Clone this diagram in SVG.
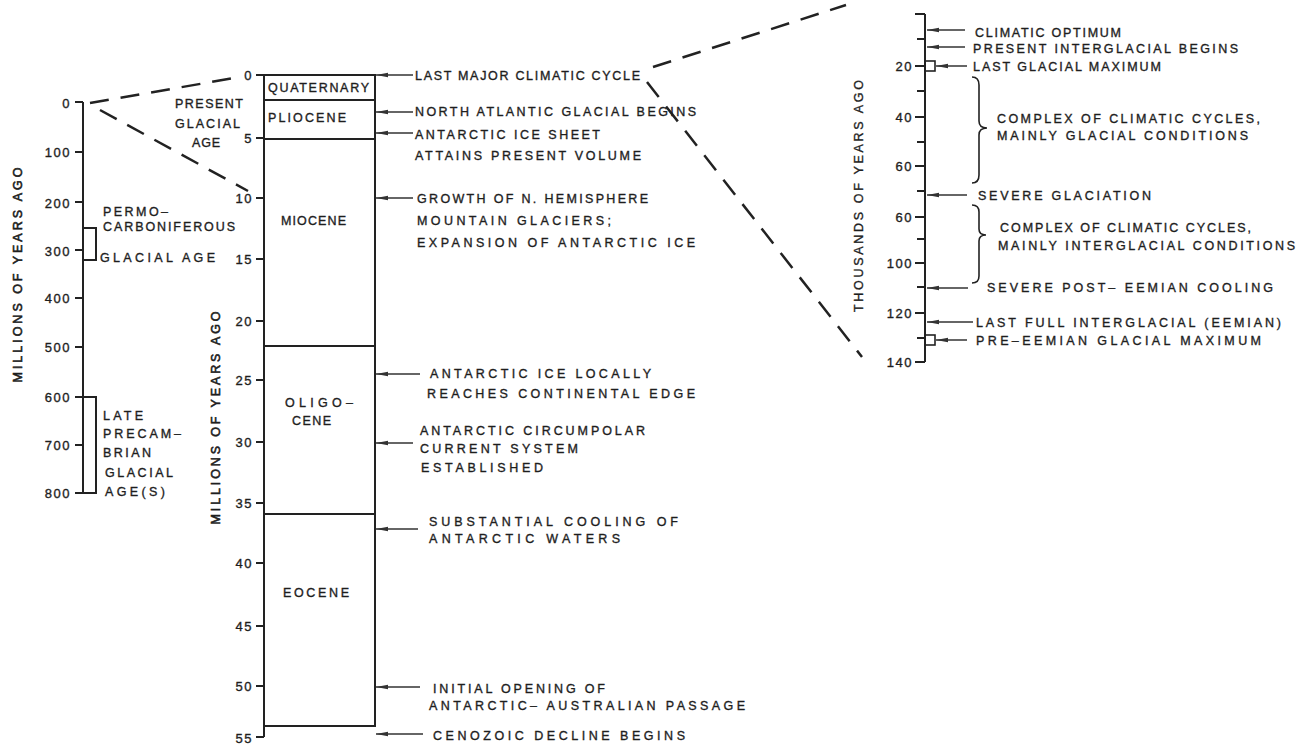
<svg xmlns="http://www.w3.org/2000/svg" width="1299" height="753" viewBox="0 0 1299 753">
<style>
text{font-family:"Liberation Sans",Arial,sans-serif;font-size:13px;fill:#1e1e1e;stroke:#1e1e1e;stroke-width:0.35px;}
.n{text-anchor:end;letter-spacing:1.5px;}
.ax{fill:none;stroke:#222;stroke-width:2;}
.tk{stroke:#222;stroke-width:2;}
.ds{fill:none;stroke:#222;stroke-width:2.5;stroke-dasharray:19 12;}
.ar{stroke:#333;stroke-width:1.5;marker-end:url(#ah);}
.br{fill:none;stroke:#222;stroke-width:1.6;}
.lab{font-size:12.5px;letter-spacing:2px;}
.rot{font-size:12.5px;stroke-width:0.6px;}
</style>
<defs>
<marker id="ah" viewBox="0 0 12 6" refX="12" refY="3" markerWidth="12" markerHeight="6" markerUnits="userSpaceOnUse" orient="auto">
<path d="M0,0.8 L12,3 L0,5.2 Z" fill="#333"/>
</marker>
</defs>
<rect width="1299" height="753" fill="#fff"/>

<g id="connectors">
<line class="ds" x1="90" y1="103" x2="240" y2="77"/>
<line class="ds" x1="100" y1="110" x2="248" y2="191"/>
<line class="ds" x1="653" y1="67" x2="846" y2="5"/>
<line class="ds" x1="647" y1="82" x2="862" y2="357"/>
</g>

<g id="left-axis">
<line class="ax" x1="83" y1="102" x2="83" y2="493"/>
<g class="tk">
<line x1="75" y1="102" x2="83" y2="102"/><line x1="75" y1="152" x2="83" y2="152"/>
<line x1="75" y1="202" x2="83" y2="202"/><line x1="75" y1="250" x2="83" y2="250"/>
<line x1="75" y1="298" x2="83" y2="298"/><line x1="75" y1="347" x2="83" y2="347"/>
<line x1="75" y1="397" x2="83" y2="397"/><line x1="75" y1="445" x2="83" y2="445"/>
<line x1="75" y1="493" x2="83" y2="493"/>
</g>
<text class="n" x="71" y="107.5">0</text>
<text class="n" x="71" y="156.5">100</text>
<text class="n" x="71" y="207.5">200</text>
<text class="n" x="71" y="255.5">300</text>
<text class="n" x="71" y="302.5">400</text>
<text class="n" x="71" y="351.5">500</text>
<text class="n" x="71" y="401.5">600</text>
<text class="n" x="71" y="449.5">700</text>
<text class="n" x="71" y="497.5">800</text>
<text class="rot" transform="translate(22,275) rotate(-90)" text-anchor="middle" textLength="215" lengthAdjust="spacing">MILLIONS OF YEARS AGO</text>
</g>

<g id="permo-carboniferous">
<polyline class="ax" points="83,228 96,228 96,260 83,260"/>
<text class="lab" x="103" y="215.5" textLength="67" lengthAdjust="spacing">PERMO–</text>
<text class="lab" x="103" y="230.5" textLength="134" lengthAdjust="spacing">CARBONIFEROUS</text>
<text class="lab" x="100" y="261.5" textLength="117" lengthAdjust="spacing">GLACIAL AGE</text>
</g>

<g id="late-precambrian">
<polyline class="ax" points="83,397 96,397 96,493 83,493"/>
<text class="lab" x="103" y="419.5" textLength="42" lengthAdjust="spacing">LATE</text>
<text class="lab" x="103" y="437.5" textLength="80" lengthAdjust="spacing">PRECAM–</text>
<text class="lab" x="103" y="456.5" textLength="50" lengthAdjust="spacing">BRIAN</text>
<text class="lab" x="105" y="476.5" textLength="70" lengthAdjust="spacing">GLACIAL</text>
<text class="lab" x="105" y="495.5" textLength="62" lengthAdjust="spacing">AGE(S)</text>
</g>

<g id="present-glacial-age">
<text class="lab" x="175" y="107.5" textLength="70" lengthAdjust="spacing">PRESENT</text>
<text class="lab" x="175" y="127.5" textLength="67" lengthAdjust="spacing">GLACIAL</text>
<text class="lab" x="192" y="146.5" textLength="30" lengthAdjust="spacing">AGE</text>
</g>

<g id="middle-axis">
<line class="ax" x1="264" y1="75" x2="264" y2="737"/>
<g class="tk">
<line x1="256" y1="75" x2="264" y2="75"/><line x1="256" y1="138" x2="264" y2="138"/>
<line x1="256" y1="198" x2="264" y2="198"/><line x1="256" y1="259" x2="264" y2="259"/>
<line x1="256" y1="321" x2="264" y2="321"/><line x1="256" y1="380" x2="264" y2="380"/>
<line x1="256" y1="442" x2="264" y2="442"/><line x1="256" y1="503" x2="264" y2="503"/>
<line x1="256" y1="563" x2="264" y2="563"/><line x1="256" y1="626" x2="264" y2="626"/>
<line x1="256" y1="686" x2="264" y2="686"/><line x1="256" y1="737" x2="264" y2="737"/>
</g>
<text class="n" x="253" y="79.5">0</text>
<text class="n" x="253" y="142.5">5</text>
<text class="n" x="253" y="202.5">10</text>
<text class="n" x="253" y="263.5">15</text>
<text class="n" x="253" y="325.5">20</text>
<text class="n" x="253" y="384.5">25</text>
<text class="n" x="253" y="446.5">30</text>
<text class="n" x="253" y="507.5">35</text>
<text class="n" x="253" y="567.5">40</text>
<text class="n" x="253" y="630.5">45</text>
<text class="n" x="253" y="690.5">50</text>
<text class="n" x="253" y="742.5">55</text>
<text class="rot" transform="translate(219.5,418) rotate(-90)" text-anchor="middle" textLength="213" lengthAdjust="spacing">MILLIONS OF YEARS AGO</text>
</g>

<g id="epochs">
<rect class="ax" x="264" y="75" width="111" height="651"/>
<line class="tk" x1="264" y1="100" x2="375" y2="100"/>
<line class="tk" x1="264" y1="139" x2="375" y2="139" stroke-width="2.6"/>
<line class="tk" x1="264" y1="346" x2="375" y2="346"/>
<line class="tk" x1="264" y1="514" x2="375" y2="514"/>
<text class="lab" x="268" y="91.5" textLength="103" lengthAdjust="spacing">QUATERNARY</text>
<text class="lab" x="268" y="121.5" textLength="80" lengthAdjust="spacing">PLIOCENE</text>
<text class="lab" x="281" y="224.5" textLength="67" lengthAdjust="spacing">MIOCENE</text>
<text class="lab" x="285" y="406.5" textLength="70" lengthAdjust="spacing">OLIGO–</text>
<text class="lab" x="292" y="424.5" textLength="41" lengthAdjust="spacing">CENE</text>
<text class="lab" x="283" y="596.5" textLength="68" lengthAdjust="spacing">EOCENE</text>
</g>

<g id="events-cenozoic">
<line class="ar" x1="413" y1="75" x2="376" y2="75"/>
<line class="ar" x1="413" y1="112" x2="376" y2="112"/>
<line class="ar" x1="413" y1="133" x2="376" y2="133"/>
<line class="ar" x1="413" y1="198" x2="376" y2="198"/>
<line class="ar" x1="420" y1="374" x2="376" y2="374"/>
<line class="ar" x1="413" y1="443" x2="376" y2="443"/>
<line class="ar" x1="418" y1="529" x2="376" y2="529"/>
<line class="ar" x1="420" y1="687" x2="376" y2="687"/>
<line class="ar" x1="423" y1="734" x2="376" y2="734"/>
<text class="lab" x="415" y="79.5" textLength="227" lengthAdjust="spacing">LAST MAJOR CLIMATIC CYCLE</text>
<text class="lab" x="415" y="115.5" textLength="283" lengthAdjust="spacing">NORTH ATLANTIC GLACIAL BEGINS</text>
<text class="lab" x="415" y="138.5" textLength="187" lengthAdjust="spacing">ANTARCTIC ICE SHEET</text>
<text class="lab" x="415" y="159.5" textLength="228" lengthAdjust="spacing">ATTAINS PRESENT VOLUME</text>
<text class="lab" x="417" y="202.5" textLength="233" lengthAdjust="spacing">GROWTH OF N. HEMISPHERE</text>
<text class="lab" x="417" y="224.5" textLength="196" lengthAdjust="spacing">MOUNTAIN GLACIERS;</text>
<text class="lab" x="417" y="246.5" textLength="280" lengthAdjust="spacing">EXPANSION OF ANTARCTIC ICE</text>
<text class="lab" x="430" y="377.5" textLength="223" lengthAdjust="spacing">ANTARCTIC ICE LOCALLY</text>
<text class="lab" x="427" y="397.5" textLength="270" lengthAdjust="spacing">REACHES CONTINENTAL EDGE</text>
<text class="lab" x="420" y="434.5" textLength="227" lengthAdjust="spacing">ANTARCTIC CIRCUMPOLAR</text>
<text class="lab" x="420" y="452.5" textLength="160" lengthAdjust="spacing">CURRENT SYSTEM</text>
<text class="lab" x="421" y="471.5" textLength="124" lengthAdjust="spacing">ESTABLISHED</text>
<text class="lab" x="429" y="525.5" textLength="251" lengthAdjust="spacing">SUBSTANTIAL COOLING OF</text>
<text class="lab" x="429" y="542.5" textLength="193" lengthAdjust="spacing">ANTARCTIC WATERS</text>
<text class="lab" x="433" y="692.5" textLength="174" lengthAdjust="spacing">INITIAL OPENING OF</text>
<text class="lab" x="429" y="709.5" textLength="318" lengthAdjust="spacing">ANTARCTIC– AUSTRALIAN PASSAGE</text>
<text class="lab" x="433" y="739.5" textLength="254" lengthAdjust="spacing">CENOZOIC DECLINE BEGINS</text>
</g>

<g id="right-axis">
<line class="ax" x1="925" y1="14" x2="925" y2="362"/>
<g class="tk">
<line x1="915" y1="14" x2="925" y2="14"/><line x1="917" y1="39" x2="925" y2="39"/>
<line x1="915" y1="66" x2="925" y2="66"/><line x1="917" y1="91" x2="925" y2="91"/>
<line x1="915" y1="117" x2="925" y2="117"/><line x1="917" y1="142" x2="925" y2="142"/>
<line x1="915" y1="166" x2="925" y2="166"/><line x1="917" y1="191" x2="925" y2="191"/>
<line x1="915" y1="217" x2="925" y2="217"/><line x1="917" y1="239" x2="925" y2="239"/>
<line x1="915" y1="263" x2="925" y2="263"/><line x1="917" y1="287" x2="925" y2="287"/>
<line x1="915" y1="313" x2="925" y2="313"/><line x1="917" y1="338" x2="925" y2="338"/>
<line x1="915" y1="362" x2="925" y2="362"/>
</g>
<text class="n" x="913" y="70.5">20</text>
<text class="n" x="913" y="121.5">40</text>
<text class="n" x="913" y="170.5">60</text>
<text class="n" x="913" y="221.5">60</text>
<text class="n" x="913" y="267.5">100</text>
<text class="n" x="913" y="317.5">120</text>
<text class="n" x="913" y="366.5">140</text>
<text class="rot" transform="translate(862.5,196) rotate(-90)" text-anchor="middle" textLength="232" lengthAdjust="spacing" style="stroke-width:0.35px">THOUSANDS OF YEARS AGO</text>
</g>

<g id="events-late-quaternary">
<rect x="925" y="61" width="10" height="10" fill="none" stroke="#222" stroke-width="1.6"/>
<rect x="925" y="335" width="10" height="10" fill="none" stroke="#222" stroke-width="1.6"/>
<line class="ar" x1="965" y1="30" x2="927" y2="30"/>
<line class="ar" x1="965" y1="47" x2="927" y2="47"/>
<line class="ar" x1="967" y1="66" x2="936" y2="66"/>
<line class="ar" x1="967" y1="195" x2="927" y2="195"/>
<line class="ar" x1="968" y1="288" x2="927" y2="288"/>
<line class="ar" x1="973" y1="322" x2="927" y2="322"/>
<line class="ar" x1="967" y1="340" x2="936" y2="340"/>
<path class="br" d="M972,77 Q979,77 979,85 L979,121 Q979,128 987,128 Q979,128 979,135 L979,175 Q979,183 972,183"/>
<path class="br" d="M972,205 Q979,205 979,212 L979,229 Q979,235 986,235 Q979,235 979,241 L979,276 Q979,283 972,283"/>
<text class="lab" x="975" y="36.5" textLength="148" lengthAdjust="spacing">CLIMATIC OPTIMUM</text>
<text class="lab" x="973" y="52.5" textLength="267" lengthAdjust="spacing">PRESENT INTERGLACIAL BEGINS</text>
<text class="lab" x="973" y="70.5" textLength="190" lengthAdjust="spacing">LAST GLACIAL MAXIMUM</text>
<text class="lab" x="997" y="122.5" textLength="265" lengthAdjust="spacing">COMPLEX OF CLIMATIC CYCLES,</text>
<text class="lab" x="997" y="139.5" textLength="253" lengthAdjust="spacing">MAINLY GLACIAL CONDITIONS</text>
<text class="lab" x="978" y="199.5" textLength="175" lengthAdjust="spacing">SEVERE GLACIATION</text>
<text class="lab" x="1000" y="231.5" textLength="253" lengthAdjust="spacing">COMPLEX OF CLIMATIC CYCLES,</text>
<text class="lab" x="998" y="249.5" textLength="299" lengthAdjust="spacing">MAINLY INTERGLACIAL CONDITIONS</text>
<text class="lab" x="987" y="291.5" textLength="288" lengthAdjust="spacing">SEVERE POST– EEMIAN COOLING</text>
<text class="lab" x="976" y="326.5" textLength="307" lengthAdjust="spacing">LAST FULL INTERGLACIAL (EEMIAN)</text>
<text class="lab" x="976" y="344.5" textLength="287" lengthAdjust="spacing">PRE–EEMIAN GLACIAL MAXIMUM</text>
</g>
</svg>
